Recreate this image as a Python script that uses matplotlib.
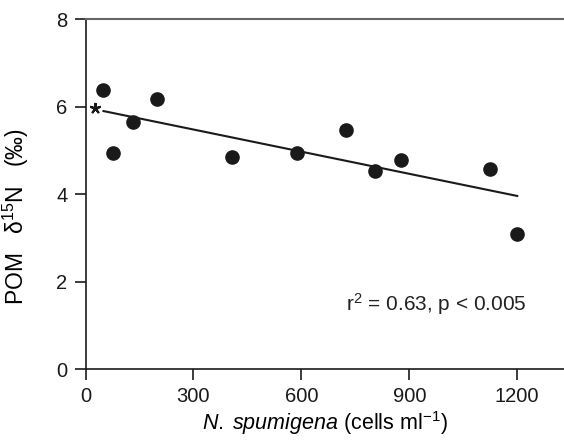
import matplotlib
matplotlib.use("Agg")
import matplotlib.pyplot as plt

# N. spumigena abundance (cells ml-1) vs POM d15N (permil)
cells = [50, 77, 133, 198, 408, 587, 724, 804, 876, 1124, 1198]
d15n = [6.39, 4.95, 5.64, 6.17, 4.85, 4.95, 5.47, 4.53, 4.79, 4.57, 3.10]

# regression line end points
fit_x = [50, 1200]
fit_y = [5.90, 3.96]

# asterisk marker position
star_x, star_y = 26, 5.97

xticks = [0, 300, 600, 900, 1200]
yticks = [0, 2, 4, 6, 8]

plt.rcParams["font.family"] = ["Liberation Sans", "DejaVu Sans"]
plt.rcParams["mathtext.fontset"] = "custom"
plt.rcParams["mathtext.rm"] = "Liberation Sans"
plt.rcParams["mathtext.it"] = "Liberation Sans:italic"

fig = plt.figure(figsize=(5.64, 4.41), dpi=100)
ax = fig.add_axes([0.1516, 0.1626, 0.8484, 0.794])

ax.plot(cells, d15n, "o", color="#1a1a1a", markersize=9.5, clip_on=False, zorder=3)
ax.plot(fit_x, fit_y, color="#1a1a1a", lw=1.5)
ax.plot([star_x], [star_y], marker=(5, 2, 0), markersize=8, mew=1.5,
        color="#1a1a1a", linestyle="none")

ax.text(1226, 1.49, "r$^{2}$ = 0.63, p < 0.005", fontsize=15, ha="right", va="center",
        color="#222222")

ax.set_xlim(0, 1330)
ax.set_ylim(0, 8)
ax.set_xticks(xticks)
ax.set_yticks(yticks)

ax.spines["right"].set_visible(False)
ax.spines["top"].set_color("#666666")
ax.spines["top"].set_linewidth(1.5)
for s in ["left", "bottom"]:
    ax.spines[s].set_linewidth(1.2)
    ax.spines[s].set_color("#1a1a1a")

ax.tick_params(axis="both", direction="out", length=8, width=1.2, labelsize=14.5,
               colors="#1a1a1a", pad=5)
ax.tick_params(top=False, right=False)

ax.set_ylabel("POM   δ$^{15}$N   (‰)", fontsize=16.5)
ax.yaxis.set_label_coords(-0.114, 0.437)
ax.set_xlabel(r"$\mathit{N.\;spumigena}$ (cells ml$^{-1}$)", fontsize=15.5, labelpad=2)

fig.savefig("out.png", dpi=100)
